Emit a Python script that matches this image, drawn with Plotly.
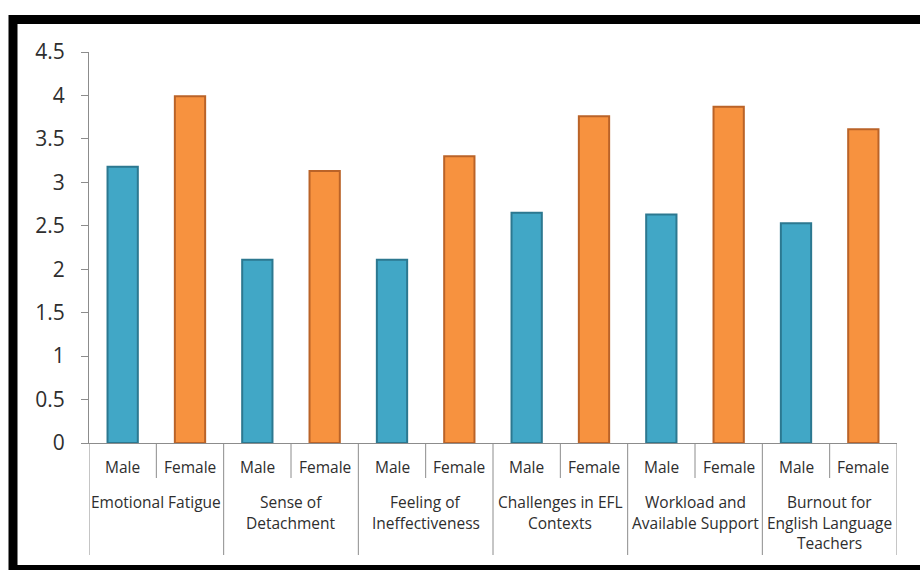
import plotly.graph_objects as go

# Burnout dimension scores by gender
groups = [
    ["Emotional Fatigue"],
    ["Sense of", "Detachment"],
    ["Feeling of", "Ineffectiveness"],
    ["Challenges in EFL", "Contexts"],
    ["Workload and", "Available Support"],
    ["Burnout for", "English Language", "Teachers"],
]
genders = ["Male", "Female"]
male = [3.18, 2.11, 2.11, 2.65, 2.63, 2.53]
female = [3.99, 3.13, 3.30, 3.76, 3.87, 3.61]
y_ticks = [0, 0.5, 1, 1.5, 2, 2.5, 3, 3.5, 4, 4.5]

FONT = "Open Sans"
TEXT = "#2e2e2e"
RULE = "#8c8c8c"

# plot-area geometry in pixels (used to turn pixel offsets into paper units)
W, H = 920, 570
ML, MR, MT, MB = 89, 23, 52, 127
PW, PH = W - ML - MR, H - MT - MB

n = len(groups)
x_male = [2 * g for g in range(n)]
x_female = [2 * g + 1 for g in range(n)]

fig = go.Figure()
fig.add_trace(go.Bar(
    x=x_male, y=male, width=0.45, name="Male",
    marker=dict(color="#41A7C6", line=dict(color="#2C7890", width=2)),
))
fig.add_trace(go.Bar(
    x=x_female, y=female, width=0.45, name="Female",
    marker=dict(color="#F7923F", line=dict(color="#BA6328", width=2)),
))

annotations = []
shapes = []

def py(px_below_axis):
    """paper y for a distance in pixels below the x axis"""
    return -px_below_axis / PH

# gender labels, the short dividers between them, and the group names
for g in range(n):
    for k, lab in enumerate(genders):
        annotations.append(dict(
            x=2 * g + k, y=0, xref="x", yref="paper", yshift=-24,
            text=lab, showarrow=False, yanchor="middle",
            font=dict(family=FONT, size=15.5, color=TEXT),
        ))
    shapes.append(dict(type="line", xref="x", yref="paper",
                       x0=2 * g + 0.5, x1=2 * g + 0.5, y0=0, y1=py(35),
                       line=dict(color=RULE, width=1)))
    for j, line in enumerate(groups[g]):
        annotations.append(dict(
            x=2 * g + 0.5, y=0, xref="x", yref="paper", yshift=-(59 + 20.5 * j),
            text=line, showarrow=False, yanchor="middle",
            font=dict(family=FONT, size=15.5, color=TEXT),
        ))

# long dividers between groups
for g in range(n + 1):
    shapes.append(dict(type="line", xref="x", yref="paper",
                       x0=2 * g - 0.5, x1=2 * g - 0.5, y0=0, y1=py(112),
                       line=dict(color=RULE, width=1)))

# heavy black frame around the chart
shapes.append(dict(type="rect", xref="paper", yref="paper",
                   x0=(13 - ML) / PW, x1=(935 - ML) / PW,
                   y0=-(569.5 - (H - MB)) / PH, y1=((H - MB) - 19.5) / PH,
                   line=dict(color="black", width=9), fillcolor="rgba(0,0,0,0)"))

fig.update_layout(
    width=W, height=H,
    margin=dict(l=ML, r=MR, t=MT, b=MB),
    paper_bgcolor="white", plot_bgcolor="white",
    barmode="overlay", showlegend=False,
    annotations=annotations, shapes=shapes,
    xaxis=dict(range=[-0.5, 2 * n - 0.5], showticklabels=False, ticks="",
               showgrid=False, zeroline=False, showline=True,
               linecolor=RULE, linewidth=1),
    yaxis=dict(range=[0, 4.5], tickvals=y_ticks, ticks="outside", ticklen=7,
               tickcolor=RULE, showline=True, linecolor=RULE, linewidth=1,
               showgrid=False, zeroline=False, ticklabelstandoff=12,
               tickfont=dict(family=FONT, size=21, color=TEXT)),
)

fig.write_html("out.html")
